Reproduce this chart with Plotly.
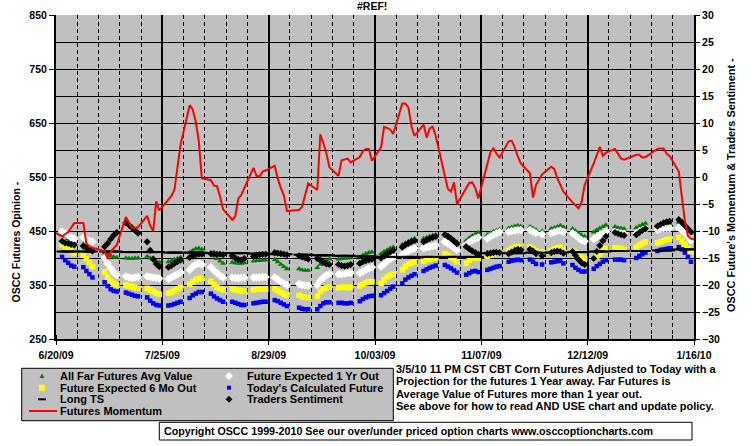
import pandas as pd
import plotly.graph_objects as go

# ---------------- data ----------------
holidays = ["2009-07-03", "2009-09-07", "2009-11-26", "2009-12-25", "2010-01-01"]
trade_dates = [d for d in pd.bdate_range("2009-06-22", "2010-01-15")
               if d.strftime("%Y-%m-%d") not in holidays]
momentum_dates = [pd.Timestamp("2009-06-19")] + trade_dates + [pd.Timestamp("2010-01-18")]

x_tick_labels = ["6/20/09", "7/25/09", "8/29/09", "10/03/09", "11/07/09", "12/12/09", "1/16/10"]

far_futures_avg = [
    443, 440, 436, 432, 428,  425, 422, 419, 416,  409, 406, 404, 402, 401,
    400, 399, 399, 400, 400,  403, 400, 397, 394, 392,  393, 395, 397, 399, 401,
    410, 414, 417, 418, 416,  409, 404, 399, 394, 390,  392, 391, 390, 390, 391,
    394, 395, 395, 396, 396,  397, 393, 388, 384, 380,  380, 378, 377, 377,
    382, 388, 393, 396, 398,  398, 399, 400, 400, 401,  402, 405, 408, 410, 411,
    408, 412, 415, 418, 420,  425, 428, 431, 434, 436,  436, 438, 440, 442, 443,
    445, 442, 438, 434, 430,  432, 437, 441, 444, 447,  443, 446, 449, 451, 453,
    455, 457, 459, 460, 459,  458, 455, 452, 450,  454, 456, 458, 460, 457,
    454, 450, 446, 442, 440,  448, 452, 455, 458, 461,  458, 456, 455, 454,
    456, 459, 462, 464,  460, 462, 463, 464, 464,  466, 462, 457, 451, 446,
]

future_1yr = [
    449, 446, 442, 438, 435,  438, 435, 432, 430,  400, 390, 381, 373, 368,
    366, 364, 363, 364, 365,  366, 365, 364, 363, 362,  361, 364, 367, 370, 373,
    378, 384, 388, 390, 388,  383, 377, 372, 367, 364,  364, 363, 363, 363, 364,
    364, 364, 364, 365, 365,  364, 360, 356, 353, 350,  352, 350, 349, 349,
    350, 358, 364, 368, 371,  370, 370, 371, 372, 372,  372, 375, 378, 381, 383,
    384, 389, 394, 398, 402,  406, 410, 413, 416, 418,  418, 420, 421, 422, 423,
    430, 427, 423, 419, 415,  424, 429, 433, 436, 438,  436, 440, 443, 446, 448,
    448, 450, 451, 452, 452,  452, 449, 446, 444,  446, 448, 450, 451, 448,
    446, 442, 437, 433, 431,  435, 439, 443, 446, 449,  448, 447, 446, 445,
    446, 449, 451, 453,  452, 454, 455, 455, 455,  456, 452, 446, 440, 433,
]

future_6mo = [
    425, 421, 417, 413, 409,  405, 399, 392, 384,  374, 364, 357, 353, 350,
    350, 348, 347, 345, 344,  344, 341, 338, 335, 333,  335, 337, 340, 343, 345,
    351, 356, 360, 362, 362,  357, 351, 346, 343, 341,  343, 341, 340, 339, 339,
    341, 342, 342, 342, 342,  343, 340, 336, 333, 331,  331, 328, 327, 327,
    329, 338, 343, 345, 346,  345, 346, 346, 345, 346,  348, 351, 354, 356, 356,
    353, 360, 365, 368, 370,  378, 384, 389, 391, 393,  394, 396, 398, 399, 400,
    408, 405, 401, 397, 393,  390, 396, 400, 401, 399,  403, 406, 408, 410, 412,
    414, 417, 420, 421, 420,  420, 417, 413, 411,  414, 417, 419, 420, 416,
    414, 410, 405, 401, 399,  398, 403, 408, 413, 418,  419, 418, 417, 416,
    420, 424, 427, 430,  428, 430, 432, 434, 435,  438, 432, 425, 418, 412,
]

todays_future = [
    402, 396, 391, 386, 384,  383, 376, 370, 364,  355, 348, 342, 339, 338,
    336, 334, 332, 330, 329,  327, 321, 316, 313, 312,  312, 313, 315, 317, 319,
    326, 331, 334, 337, 337,  334, 329, 325, 322, 319,  319, 317, 315, 313, 313,
    316, 317, 318, 319, 319,  322, 320, 317, 314, 311,  308, 306, 305, 305,
    305, 311, 316, 318, 318,  317, 317, 316, 316, 317,  320, 324, 327, 329, 330,
    331, 335, 339, 343, 347,  353, 360, 364, 367, 370,  376, 379, 382, 384, 386,
    387, 384, 381, 377, 373,  369, 372, 375, 376, 374,  378, 380, 382, 384, 385,
    393, 395, 396, 397, 396,  397, 393, 389, 388,  392, 393, 394, 395, 390,
    387, 382, 378, 375, 375,  380, 385, 389, 393, 396,  397, 397, 397, 396,
    400, 404, 407, 410,  413, 415, 416, 417, 418,  420, 416, 410, 402, 393,
]

long_ts = [
    412, 412, 412, 412, 412,  412, 412, 412, 412,  412, 412, 412, 412, 412,
    411, 411, 411, 411, 411,  411, 411, 411, 411, 411,  410, 410, 410, 410, 410,
    410, 410, 410, 410, 410,  409, 409, 409, 409, 409,  409, 409, 409, 409, 409,
    408, 408, 408, 408, 408,  407, 407, 407, 407, 407,  406, 406, 406, 406,
    405, 405, 405, 405, 405,  404, 404, 404, 404, 404,  403, 403, 403, 403, 403,
    402, 402, 402, 402, 402,  402, 402, 402, 402, 402,  402, 402, 402, 402, 402,
    402, 402, 402, 402, 402,  402, 402, 402, 402, 402,  409, 409, 409, 409, 409,
    409, 409, 409, 409, 409,  410, 410, 410, 410,  410, 410, 410, 410, 410,
    411, 411, 411, 411, 411,  412, 412, 412, 412, 412,  413, 413, 413, 413,
    413, 413, 413, 413,  414, 414, 414, 414, 414,  416, 416, 416, 416, 416,
]

traders_sentiment = [
    -11.9, -12.2, -12.3, -12.5, -12.6,  -12.8, -13.1, -13.4, -13.7,
    -12.9, -12.3, -11.5, -10.8, -10.3,  -8.5, -8.9, -9.4, -9.9, -10.4,
    -12.0, -13.6, -15.2, -16.1, -16.6,  -16.7, -16.4, -16.0, -15.7, -15.4,
    -14.9, -14.6, -14.4, -14.3, -14.3,  -14.2, -14.2, -14.3, -14.3, -14.4,
    -14.6, -15.0, -15.3, -15.4, -15.1,  -14.7, -14.5, -14.4, -14.3, -14.3,
    -14.0, -14.1, -14.2, -14.3, -14.4,  -14.6, -14.8, -15.0, -15.2,
    -15.1, -15.4, -15.8, -16.1, -16.2,  -16.2, -16.4, -16.5, -16.4, -16.2,
    -16.0, -15.7, -15.5, -15.3, -15.2,  -15.0, -14.6, -14.2, -13.9, -13.6,
    -13.0, -12.6, -12.3, -12.0, -11.8,  -12.0, -11.7, -11.4, -11.2, -11.0,
    -10.7, -11.0, -11.4, -11.9, -12.4,  -12.9, -13.3, -13.7, -14.0, -14.3,
    -14.2, -14.1, -14.0, -13.9, -14.0,  -14.2, -13.9, -13.6, -13.4, -13.5,
    -13.4, -13.7, -14.2, -14.6,  -14.0, -13.8, -13.7, -13.8, -14.1,
    -13.8, -14.5, -15.3, -15.9, -16.2,  -15.1, -13.8, -12.7, -11.8, -11.0,
    -10.3, -10.5, -10.7, -10.8,  -10.7, -10.3, -9.9, -9.6,
    -9.1, -8.8, -8.5, -8.3, -8.2,  -7.9, -8.4, -9.0, -9.6, -10.2,
]

futures_momentum = [
    -10.1,
    -11.0, -10.6, -10.2, -9.4, -8.5,  -8.5, -12.3, -12.9, -13.1,
    -13.7, -15.1, -13.8, -13.2, -12.6,  -7.4, -8.5, -9.4, -9.4, -9.3,
    -7.2, -9.0, -10.0, -4.5, -6.2,  -4.2, -3.5, -2.3, 1.7, 6.0,
    13.3, 12.5, 10.3, 6.6, -0.2,  -0.6, -1.6, -1.7, -3.6, -6.0,
    -7.9, -7.3, -4.0, -3.3, -2.0,  1.7, 0.2, 0.1, 1.0, 1.2,
    2.1, -0.3, -2.0, -3.4, -6.3,  -6.1, -5.5, -3.4, -1.2,
    -2.4, 7.9, 6.3, 4.4, 1.8,  0.2, 3.1, 3.2, 3.4, 2.7,
    3.7, 4.8, 5.2, 5.2, 3.0,  5.5, 9.3, 9.1, 8.8, 8.0,
    13.6, 13.6, 12.9, 9.4, 7.6,  9.7, 7.3, 9.0, 9.3, 7.6,
    0.5, -2.2, -2.7, -1.0, -5.0,  -2.1, -1.1, -1.0, -2.0, -4.0,
    2.3, 4.6, 5.3, 4.3, 3.6,  6.6, 6.7, 5.5, 3.8, 2.5,
    0.7, -3.8, -1.5, 0.5,  1.9, 1.5, -0.2, -1.3, -2.7,
    -4.7, -5.3, -5.8, -4.7, -1.5,  2.5, 4.2, 5.6, 3.9, 4.5,
    5.2, 4.2, 3.4, 3.2,  4.1, 4.1, 3.6, 3.7,
    5.2, 5.3, 5.3, 4.3, 3.9,  1.0, -4.2, -8.2, -10.9, -11.4,
    -12.0,
]

legend_labels = ["All Far Futures Avg Value", "Future Expected 1 Yr Out",
                 "Future Expected 6 Mo Out", "Today's Calculated Future",
                 "Long TS", "Traders Sentiment", "Futures Momentum"]

note_lines = [
    "3/5/10 11 PM CST CBT Corn Futures Adjusted to Today with a",
    "Projection for the futures 1 Year away. Far Futures is",
    "Average Value of Futures more than 1 year out.",
    "See above for how to read AND USE chart and update policy.",
]
copyright_text = "Copyright OSCC 1999-2010 See our over/under priced option charts www.osccoptioncharts.com"

# ---------------- geometry helpers ----------------
W, H = 755, 446
L, R, T, B = 56, 694, 15, 339
PW, PH = R - L, B - T


def px(x):
    return (x - L) / PW


def py(y):
    return (B - y) / PH


FONT = "Liberation Sans, Arial, sans-serif"


def bold(size=10.5):
    return dict(family=FONT, size=size, color="black", weight="bold")


fig = go.Figure()
fig.add_trace(go.Scatter(x=trade_dates, y=far_futures_avg, mode="markers", name=legend_labels[0],
                         marker=dict(symbol="triangle-up", size=5.5, color="#008000", line=dict(width=0))))
fig.add_trace(go.Scatter(x=trade_dates, y=future_1yr, mode="markers", name=legend_labels[1],
                         marker=dict(symbol="diamond", size=6.5, color="white", line=dict(width=0))))
fig.add_trace(go.Scatter(x=trade_dates, y=future_6mo, mode="markers", name=legend_labels[2],
                         marker=dict(symbol="square", size=5.5, color="#FFFF00", line=dict(width=0))))
fig.add_trace(go.Scatter(x=trade_dates, y=todays_future, mode="markers", name=legend_labels[3],
                         marker=dict(symbol="square", size=4.5, color="#0000FF", line=dict(width=0))))
fig.add_trace(go.Scatter(x=trade_dates, y=long_ts, mode="markers", name=legend_labels[4],
                         marker=dict(symbol="line-ew", size=8, color="black", line=dict(width=2, color="black"))))
fig.add_trace(go.Scatter(x=trade_dates, y=traders_sentiment, mode="markers", name=legend_labels[5], yaxis="y2",
                         marker=dict(symbol="diamond", size=5.5, color="black", line=dict(width=0))))
fig.add_trace(go.Scatter(x=momentum_dates, y=futures_momentum, mode="lines", name=legend_labels[6], yaxis="y2",
                         line=dict(color="#FF0000", width=2)))

DAY = 86400000
fig.update_layout(
    width=W, height=H, autosize=False,
    margin=dict(l=L, r=W - R, t=T, b=H - B, pad=0, autoexpand=False),
    paper_bgcolor="white", plot_bgcolor="#C0C0C0",
    showlegend=False,
    font=bold(),
    xaxis=dict(type="date", range=["2009-06-20", "2010-01-16"], automargin=False,
               tickmode="array",
               tickvals=["2009-06-20", "2009-07-25", "2009-08-29", "2009-10-03",
                         "2009-11-07", "2009-12-12", "2010-01-16"],
               ticktext=x_tick_labels,
               showgrid=True, gridcolor="black", gridwidth=2,
               ticks="outside", ticklen=4, tickcolor="black", tickwidth=1,
               showline=True, linecolor="black", linewidth=2, zeroline=False,
               ticklabelstandoff=1, tickfont=bold(),
               minor=dict(tick0="2009-06-20", dtick=7 * DAY, showgrid=True, gridcolor="black",
                          gridwidth=1, griddash="4px,3px", ticks="inside", ticklen=4,
                          tickcolor="black")),
    yaxis=dict(range=[250, 850], tick0=250, dtick=100, automargin=False,
               showgrid=True, gridcolor="black", gridwidth=1,
               minor=dict(tick0=250, dtick=50, showgrid=True, gridcolor="black", gridwidth=1),
               ticks="outside", ticklen=5, tickcolor="black",
               showline=True, linecolor="black", linewidth=2, zeroline=False, tickfont=bold()),
    yaxis2=dict(range=[-30, 30], tick0=-30, dtick=5, overlaying="y", side="right", automargin=False,
                showgrid=False, ticks="outside", ticklen=4, tickcolor="black",
                showline=True, linecolor="black", linewidth=2, zeroline=False, tickfont=bold()),
)

annotations = []
shapes = []

# title and axis titles
annotations.append(dict(text="#REF!", x=px(371.5), y=py(6.5), xanchor="center", yanchor="middle",
                        font=bold()))
annotations.append(dict(text="OSCC Futures Opinion -", x=px(15), y=py(242.5), textangle=-90,
                        xanchor="center", yanchor="middle", font=bold()))
annotations.append(dict(text="OSCC Future's Momentum & Traders Sentiment -", x=px(731), y=py(185),
                        textangle=-90, xanchor="center", yanchor="middle", font=bold(10.9)))

# legend box
shapes.append(dict(type="rect", xref="paper", yref="paper", x0=px(21.7), x1=px(393.3),
                   y0=py(420.7), y1=py(368.3), fillcolor="#C0C0C0", line=dict(color="black", width=1)))
rows = [376, 387.7, 399.3, 411]
c1s, c1t, c2s, c2t = 42, 59, 229, 246
legend_pos = [(c1s, c1t, rows[0]), (c2s, c2t, rows[0]), (c1s, c1t, rows[1]), (c2s, c2t, rows[1]),
              (c1s, c1t, rows[2]), (c2s, c2t, rows[2]), (c1s, c1t, rows[3])]
for lab, (sx, tx, ry) in zip(legend_labels, legend_pos):
    annotations.append(dict(text=lab, x=px(tx), y=py(ry), xanchor="left", yanchor="middle",
                            font=bold(11)))


def path(points):
    return "M " + " L ".join(f"{px(a):.5f},{py(b):.5f}" for a, b in points) + " Z"


# legend symbols
sx, ry = legend_pos[0][0], legend_pos[0][2]
shapes.append(dict(type="path", xref="paper", yref="paper",
                   path=path([(sx - 2.5, ry + 2), (sx + 2.5, ry + 2), (sx, ry - 2.5)]),
                   fillcolor="#008000", line=dict(width=0)))
sx, ry = legend_pos[1][0], legend_pos[1][2]
shapes.append(dict(type="path", xref="paper", yref="paper",
                   path=path([(sx - 4, ry), (sx, ry - 4), (sx + 4, ry), (sx, ry + 4)]),
                   fillcolor="white", line=dict(width=0)))
sx, ry = legend_pos[2][0], legend_pos[2][2]
shapes.append(dict(type="rect", xref="paper", yref="paper", x0=px(sx - 3), x1=px(sx + 3),
                   y0=py(ry + 3), y1=py(ry - 3), fillcolor="#FFFF00", line=dict(width=0)))
sx, ry = legend_pos[3][0], legend_pos[3][2]
shapes.append(dict(type="rect", xref="paper", yref="paper", x0=px(sx - 2), x1=px(sx + 2),
                   y0=py(ry + 2), y1=py(ry - 2), fillcolor="#0000FF", line=dict(width=0)))
sx, ry = legend_pos[4][0], legend_pos[4][2]
shapes.append(dict(type="line", xref="paper", yref="paper", x0=px(sx - 4), x1=px(sx + 4),
                   y0=py(ry), y1=py(ry), line=dict(color="black", width=2)))
sx, ry = legend_pos[5][0], legend_pos[5][2]
shapes.append(dict(type="path", xref="paper", yref="paper",
                   path=path([(sx - 3.5, ry), (sx, ry - 3.5), (sx + 3.5, ry), (sx, ry + 3.5)]),
                   fillcolor="black", line=dict(width=0)))
ry = legend_pos[6][2]
shapes.append(dict(type="line", xref="paper", yref="paper", x0=px(29), x1=px(57),
                   y0=py(ry), y1=py(ry), line=dict(color="#FF0000", width=2)))

# note text
for line, ty in zip(note_lines, [368.5, 381, 393.5, 406]):
    annotations.append(dict(text=line, x=px(395), y=py(ty), xanchor="left", yanchor="middle",
                            font=bold(11)))

# copyright box
shapes.append(dict(type="rect", xref="paper", yref="paper", x0=px(159.3), x1=px(692),
                   y0=py(440), y1=py(422.3), fillcolor="white", line=dict(color="black", width=1)))
annotations.append(dict(text=copyright_text, x=px(163), y=py(431.2), xanchor="left", yanchor="middle",
                        font=bold(10.7)))

for a in annotations:
    a.update(xref="paper", yref="paper", showarrow=False, borderpad=0)

fig.update_layout(annotations=annotations, shapes=shapes)
fig.write_html("out.html", config={"displayModeBar": False, "staticPlot": True},
               post_script="document.body.style.margin='0px';document.body.style.overflow='hidden';")
